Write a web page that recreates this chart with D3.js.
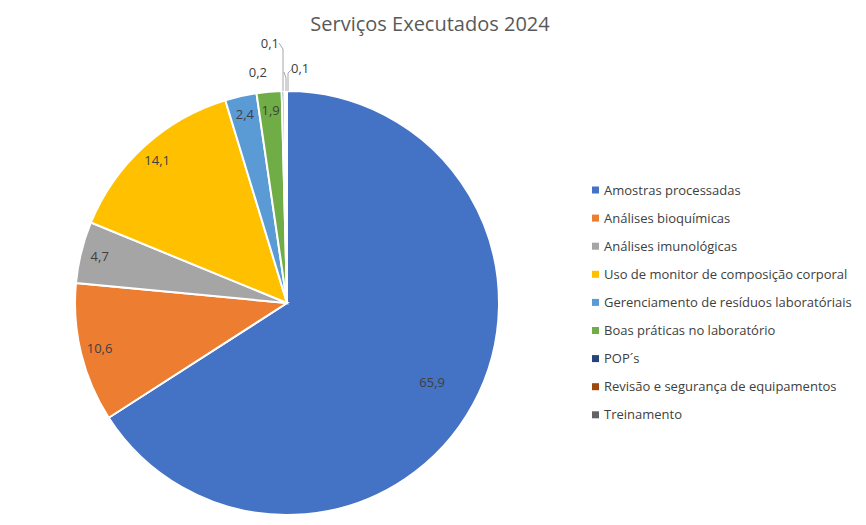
<!DOCTYPE html>
<html><head><meta charset="utf-8">
<script src="https://cdn.jsdelivr.net/npm/d3@7"></script>
<style>body{margin:0;background:#fff;font-family:"Segoe UI","Open Sans",sans-serif;}</style>
</head><body><svg id="c" width="866" height="525"></svg>
<script>
const categories=["Amostras processadas","Análises bioquímicas","Análises imunológicas","Uso de monitor de composição corporal","Gerenciamento de resíduos laboratóriais","Boas práticas no laboratório","POP´s","Revisão e segurança de equipamentos","Treinamento"];
const values=[65.9,10.6,4.7,14.1,2.4,1.9,0.2,0.1,0.1];
const labels=["65,9","10,6","4,7","14,1","2,4","1,9","0,2","0,1","0,1"];
const colors=["#4472C4","#ED7D31","#A5A5A5","#FFC000","#5B9BD5","#70AD47","#264478","#9E480E","#636363"];
const svg=d3.select("#c");
const cx=287,cy=303,r=212;
svg.append("text").attr("x",430).attr("y",31).attr("text-anchor","middle").attr("font-size",20).attr("fill","#595959").text("Serviços Executados 2024");
const pie=d3.pie().sort(null).value(d=>d)(values);
const arc=d3.arc().innerRadius(0).outerRadius(r);
const g=svg.append("g").attr("transform",`translate(${cx},${cy})`);
g.selectAll("path").data(pie).join("path").attr("d",arc).attr("fill",(d,i)=>colors[i]).attr("stroke","#fff").attr("stroke-width",2);
pie.forEach((d,i)=>{
  const a=(d.startAngle+d.endAngle)/2;
  let f=i===0?0.78:0.91;
  if(i<6){
    g.append("text").attr("x",Math.sin(a)*r*f).attr("y",-Math.cos(a)*r*f).attr("dy","0.35em").attr("text-anchor","middle").attr("font-size",13).attr("fill","#404040").text(labels[i]);
  }
});
// small slices labels with leader lines
const small=[{i:6,lx:-16,ly:-232,tx:-20,ty:-231,anchor:"end",path:[[-1,-212],[-1,-225],[-3,-231]]},
 {i:7,lx:2,ly:-236,tx:4,ty:-235,anchor:"start",path:[[1,-212],[1,-230],[6,-235]]},
 {i:8,lx:-5,ly:-261,tx:-8,ty:-260,anchor:"end",path:[[-4,-212],[-4,-254],[-8,-260]]}];
small.forEach(s=>{
  g.append("path").attr("d",d3.line()(s.path)).attr("fill","none").attr("stroke","#a6a6a6").attr("stroke-width",1);
  g.append("text").attr("x",s.tx).attr("y",s.ty).attr("dy","0.35em").attr("text-anchor",s.anchor).attr("font-size",13).attr("fill","#404040").text(labels[s.i]);
});
const lg=svg.append("g");
categories.forEach((c,i)=>{
  const y=190+i*28.1;
  lg.append("rect").attr("x",592).attr("y",y-3.5).attr("width",7).attr("height",7).attr("fill",colors[i]);
  lg.append("text").attr("x",604).attr("y",y).attr("dy","0.35em").attr("font-size",13).attr("fill","#404040").text(c);
});
</script></body></html>
